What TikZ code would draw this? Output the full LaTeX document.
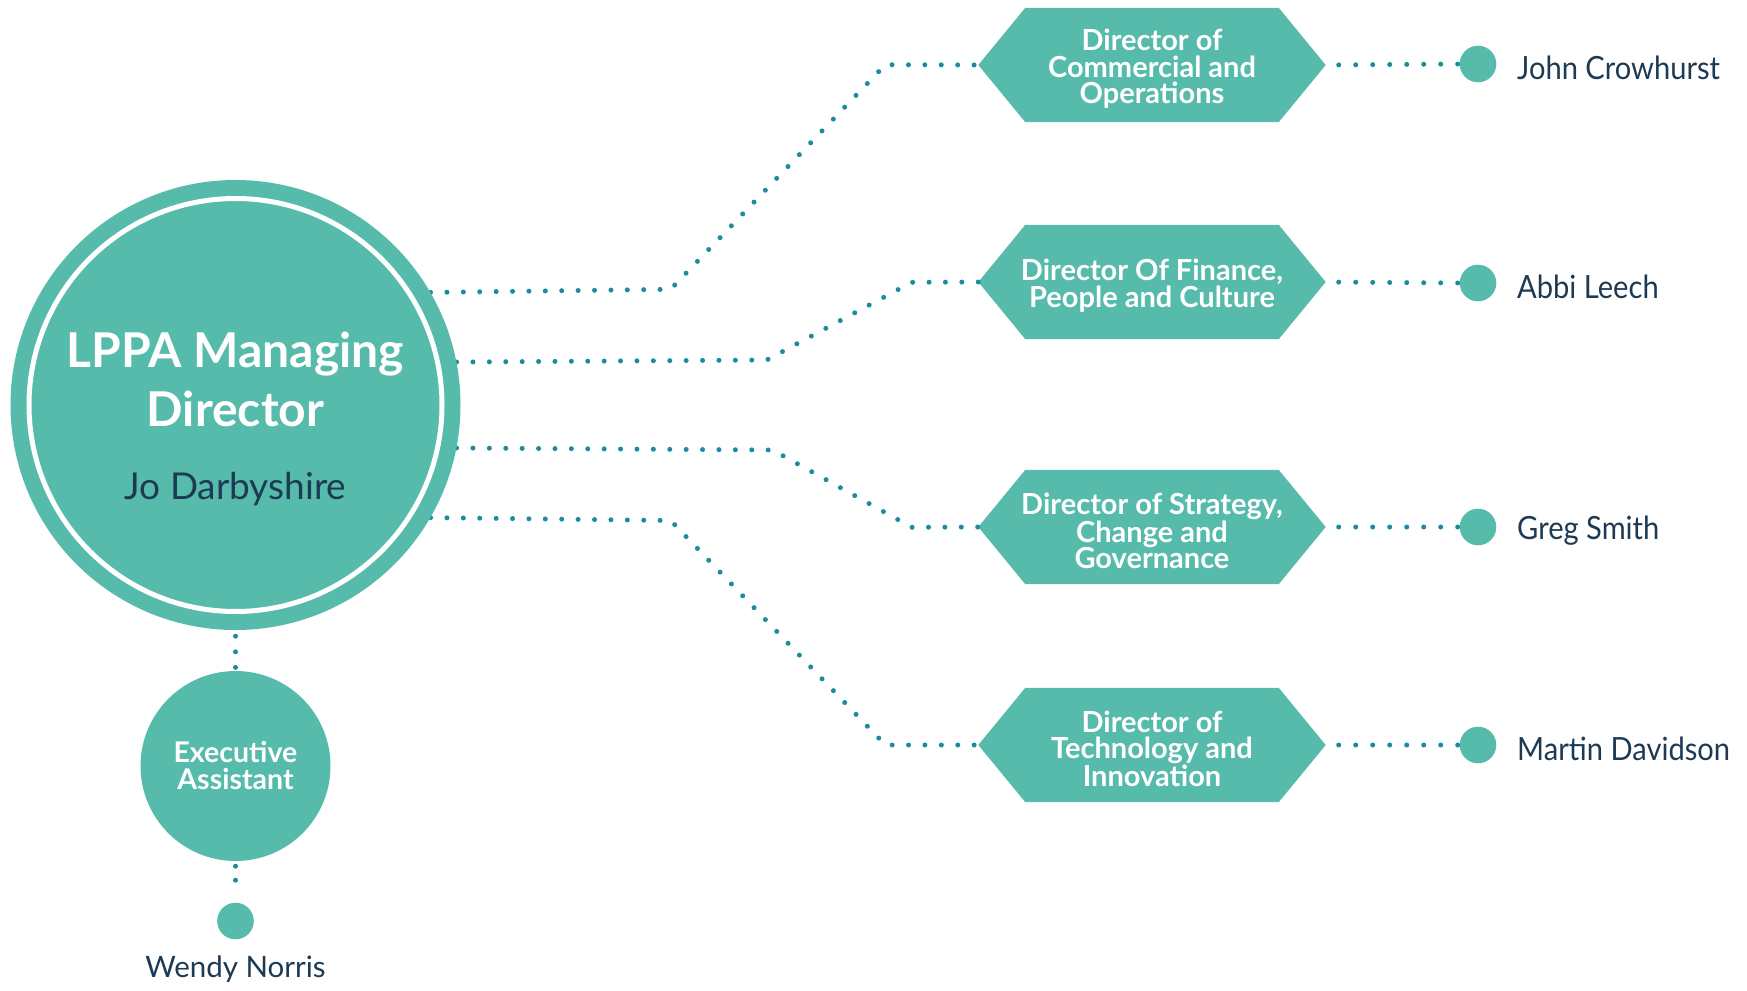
\documentclass[tikz,border=0pt]{standalone}
\usepackage{fontspec}
\setmainfont{Lato}
\newfontfamily\namefont{Lato}[FakeStretch=0.91]
\usetikzlibrary{calc,backgrounds}
\definecolor{lppateal}{HTML}{56BBAA}
\definecolor{linkdot}{HTML}{1B8C9C}
\definecolor{inknavy}{HTML}{1D3A55}
\tikzset{
  link/.style={draw=linkdot, line width=5pt, line cap=round, dash pattern=on 0pt off 16.4pt},
  sidelink/.style={draw=linkdot, line width=5pt, line cap=round, dash pattern=on 0pt off 17pt},
  hexbox/.style={minimum width=347pt, minimum height=114pt, inner sep=0pt, text=white,
    align=center, font=\fontsize{29}{26.5}\selectfont\bfseries},
  persondot/.style={circle, fill=lppateal, minimum size=36.6pt, inner sep=0pt},
  personname/.style={anchor=west, text=inknavy, inner sep=0pt, font=\namefont\fontsize{32}{34}\selectfont},
}
% a taller first line sets the block of text a little lower in its box
\newcommand{\hexstrut}{\rule{0pt}{29pt}}
\newcommand{\hexfill}[1]{%
  \fill[lppateal] (#1.west) -- ($(#1.north west)+(47,0)$) -- ($(#1.north east)+(-47,0)$)
    -- (#1.east) -- ($(#1.south east)+(-47,0)$) -- ($(#1.south west)+(47,0)$) -- cycle;}
\begin{document}
\begin{tikzpicture}[x=1pt, y=-1pt]
\useasboundingbox (0,0) rectangle (1747,990);

% Managing director
\node[circle, fill=lppateal, minimum size=450pt, inner sep=0pt] (md) at (235.5,405) {};
\draw[white, line width=5pt] (md.center) circle (206.5);
\node[text=white, align=center, font=\fontsize{48}{59}\selectfont\bfseries] (mdtitle) at (235.5,379) {LPPA Managing\\Director};
\node[text=inknavy, font=\fontsize{37}{40}\selectfont] (mdname) at (235.5,489) {Jo Darbyshire};

% Directors
\node[hexbox] (h1) at (1152,65) {\hexstrut Director of\\Commercial and\\Operations};
\node[hexbox] (h2) at (1152,282) {\hexstrut Director Of Finance,\\People and Culture};
\node[hexbox] (h3) at (1152,527) {\hexstrut Director of Strategy,\\Change and\\Governance};
\node[hexbox] (h4) at (1152,745) {\hexstrut Director of\\Technology and\\Innovation};
\begin{pgfonlayer}{background}
  \hexfill{h1}\hexfill{h2}\hexfill{h3}\hexfill{h4}
\end{pgfonlayer}

% Post holders
\node[persondot] (p1) at (1478,64) {};
\node[persondot] (p2) at (1478,283) {};
\node[persondot] (p3) at (1478,527) {};
\node[persondot] (p4) at (1478,745) {};
\node[personname] (n1) at (1517,68) {John Crowhurst};
\node[personname] (n2) at (1517,287) {Abbi Leech};
\node[personname] (n3) at (1517,531) {Greg Smith};
\node[personname] (n4) at (1517,749) {Martin Davidson};

% Executive assistant
\node[circle, fill=lppateal, minimum size=190pt, inner sep=0pt, text=white, align=center,
      font=\fontsize{28.5}{27}\selectfont\bfseries] (ea) at (235.5,766) {Executive\\Assistant};
\node[persondot] (p5) at (235.5,921) {};
\node[text=inknavy, font=\fontsize{29.5}{32}\selectfont] (n5) at (235.5,969) {Wendy Norris};

% Reporting lines
\begin{pgfonlayer}{background}
\draw[link] (md.30.9) -- (670.7,289.3) -- (885.3,64.7) -- (h1.west);
\draw[link] (md.11.5) -- (766.7,360) -- (911.7,282.3) -- (h2.west);
\draw[link] (md.-11.5) -- (772.7,450) -- (911.7,527.3) -- (h3.west);
\draw[link] (md.-30.9) -- (670.7,520.5) -- (885.3,745) -- (h4.west);
\end{pgfonlayer}
\draw[sidelink, shorten <=13pt] (h1.east) -- (p1.west);
\draw[sidelink, shorten <=13pt] (h2.east) -- (p2.west);
\draw[sidelink, shorten <=13pt] (h3.east) -- (p3.west);
\draw[sidelink, shorten <=13pt] (h4.east) -- (p4.west);
\draw[link, dash pattern=on 0pt off 15.6pt, shorten <=6pt, shorten >=2pt] (md.south) -- (ea.north);
\draw[link, dash pattern=on 0pt off 14pt, shorten <=5pt, shorten >=11pt] (ea.south) -- (p5.north);
\end{tikzpicture}
\end{document}
